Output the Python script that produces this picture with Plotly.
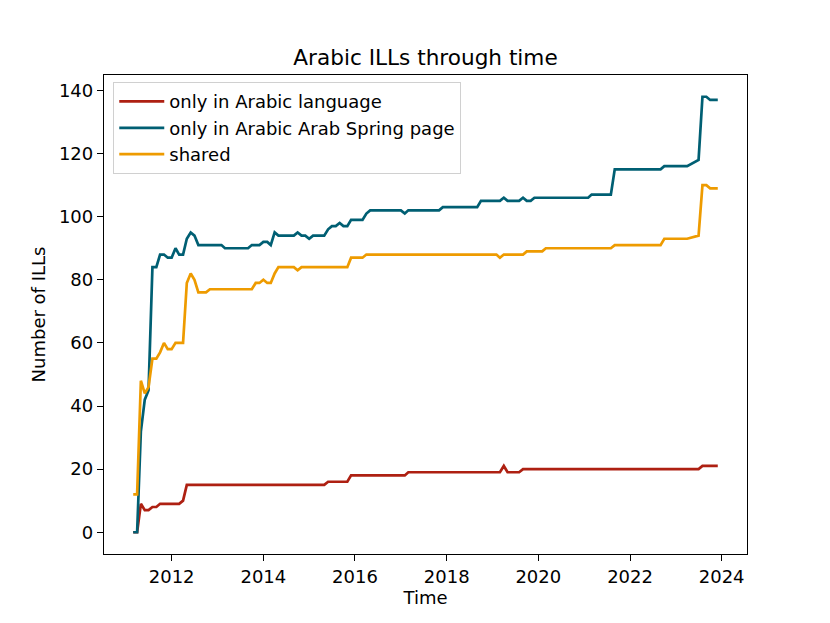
import pandas as pd
import plotly.graph_objects as go

# ---- data (month stamps of change points) ----
red_dates = ["2011-03", "2011-04", "2011-05", "2011-06", "2011-07", "2011-08", "2011-09",
             "2011-10", "2012-03", "2012-04", "2012-05", "2015-05", "2015-06", "2015-11",
             "2015-12", "2017-02", "2017-03", "2019-03", "2019-04", "2019-05", "2019-08",
             "2019-09", "2023-07", "2023-08", "2023-12"]
red_values = [0, 0, 9, 7, 7, 8, 8, 9, 9, 10, 15, 15, 16, 16, 18, 18, 19, 19, 21, 19, 19,
              20, 20, 21, 21]

blue_dates = ["2011-03", "2011-04", "2011-05", "2011-06", "2011-07", "2011-08", "2011-09",
              "2011-10", "2011-11", "2011-12", "2012-01", "2012-02", "2012-03", "2012-04",
              "2012-05", "2012-06", "2012-07", "2012-08", "2013-02", "2013-03", "2013-09",
              "2013-10", "2013-12", "2014-01", "2014-02", "2014-03", "2014-04", "2014-05",
              "2014-09", "2014-10", "2014-11", "2014-12", "2015-01", "2015-02", "2015-05",
              "2015-06", "2015-07", "2015-08", "2015-09", "2015-10", "2015-11", "2015-12",
              "2016-03", "2016-04", "2016-05", "2017-01", "2017-02", "2017-03", "2017-11",
              "2017-12", "2018-09", "2018-10", "2019-03", "2019-04", "2019-05", "2019-08",
              "2019-09", "2019-10", "2019-11", "2019-12", "2021-02", "2021-03", "2021-08",
              "2021-09", "2022-09", "2022-10", "2023-04", "2023-07", "2023-08", "2023-09",
              "2023-10", "2023-12"]
blue_values = [0, 0, 32, 42, 45, 84, 84, 88, 88, 87, 87, 90, 88, 88, 93, 95, 94, 91, 91, 90,
               90, 91, 91, 92, 92, 91, 95, 94, 94, 95, 94, 94, 93, 94, 94, 96, 97, 97, 98,
               97, 97, 99, 99, 101, 102, 102, 101, 102, 102, 103, 103, 105, 105, 106, 105,
               105, 106, 105, 105, 106, 106, 107, 107, 115, 115, 116, 116, 118, 138, 138,
               137, 137]

orange_dates = ["2011-03", "2011-04", "2011-05", "2011-06", "2011-07", "2011-08", "2011-09",
                "2011-10", "2011-11", "2011-12", "2012-01", "2012-02", "2012-04", "2012-05",
                "2012-06", "2012-07", "2012-08", "2012-10", "2012-11", "2013-10", "2013-11",
                "2013-12", "2014-01", "2014-02", "2014-03", "2014-04", "2014-05", "2014-09",
                "2014-10", "2014-11", "2015-11", "2015-12", "2016-03", "2016-04", "2019-02",
                "2019-03", "2019-04", "2019-09", "2019-10", "2020-02", "2020-03", "2021-08",
                "2021-09", "2022-09", "2022-10", "2023-04", "2023-07", "2023-08", "2023-09",
                "2023-10", "2023-12"]
orange_values = [12, 12, 48, 44, 46, 55, 55, 57, 60, 58, 58, 60, 60, 79, 82, 80, 76, 76, 77,
                 77, 79, 79, 80, 79, 79, 82, 84, 84, 83, 84, 84, 87, 87, 88, 88, 87, 88, 88,
                 89, 89, 90, 90, 91, 91, 93, 93, 94, 110, 110, 109, 109]

series_names = ["only in Arabic language", "only in Arabic Arab Spring page", "shared"]
series_colors = ["#ae2012", "#005f73", "#ee9b00"]
year_ticks = [2012, 2014, 2016, 2018, 2020, 2022, 2024]
y_ticks = [0, 20, 40, 60, 80, 100, 120, 140]

FONT = "DejaVu Sans"
FS = 18

fig = go.Figure()
all_dates = []
for name, color, d, v in zip(series_names, series_colors,
                             [red_dates, blue_dates, orange_dates],
                             [red_values, blue_values, orange_values]):
    x = pd.to_datetime([s + "-01" for s in d])
    all_dates.extend(list(x))
    fig.add_trace(go.Scatter(x=x, y=v, mode="lines", name=name, legendgroup=name,
                             line=dict(color=color, width=2.7)))

# matplotlib-like 5% margins
xmin, xmax = min(all_dates), max(all_dates)
span = xmax - xmin
x_range = [xmin - 0.05 * span, xmax + 0.05 * span]
vmax = max(max(red_values), max(blue_values), max(orange_values))
vmin = 0
y_range = [vmin - 0.05 * (vmax - vmin), vmax + 0.05 * (vmax - vmin)]

fig.update_layout(
    width=830, height=623,
    margin=dict(l=96, r=91, t=67, b=77, autoexpand=False),
    paper_bgcolor="white", plot_bgcolor="white",
    font=dict(family=FONT, size=FS, color="black"),
    title=dict(text="Arabic ILLs through time", x=(96 + 739) / 2 / 830, xanchor="center",
               y=1 - 49 / 623, yanchor="middle", yref="container",
               font=dict(size=21.6, family=FONT, color="black")),
    showlegend=True,
    legend=dict(x=0.0144, y=0.985, xanchor="left", yanchor="top",
                bgcolor="rgba(255,255,255,0.8)", bordercolor="#d0d0d0", borderwidth=1,
                font=dict(size=FS, family=FONT), tracegroupgap=0,
                itemwidth=45),
)
fig.update_xaxes(
    range=x_range, showgrid=False, zeroline=False,
    showline=True, linecolor="black", linewidth=1.3, mirror=True,
    ticks="outside", ticklen=6, tickwidth=1.3, tickcolor="black",
    tickvals=[pd.Timestamp(f"{y}-01-01") for y in year_ticks],
    ticktext=[str(y) for y in year_ticks],
    title=dict(text="Time", font=dict(size=FS, family=FONT), standoff=5),
)
fig.update_yaxes(
    range=y_range, showgrid=False, zeroline=False,
    showline=True, linecolor="black", linewidth=1.3, mirror=True,
    ticks="outside", ticklen=6, tickwidth=1.3, tickcolor="black",
    tickvals=y_ticks, ticktext=[str(t) for t in y_ticks],
    title=dict(text="Number of ILLs", font=dict(size=FS, family=FONT), standoff=8),
)

fig.write_html("out.html")
